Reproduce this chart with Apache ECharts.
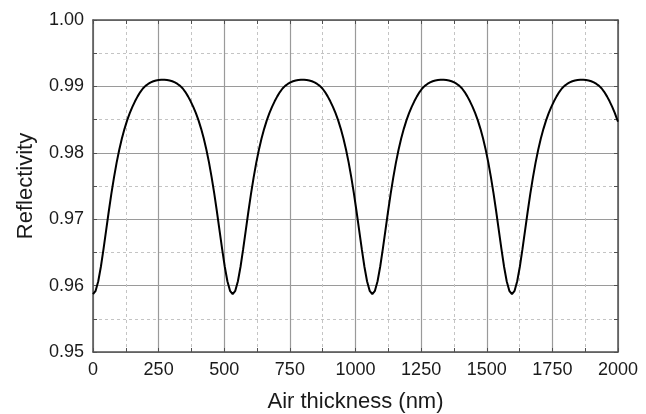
<!DOCTYPE html>
<html>
<head>
<meta charset="utf-8">
<title>Reflectivity vs air thickness</title>
<script src="https://cdn.jsdelivr.net/npm/echarts@6/dist/echarts.min.js"></script>
<style>
  html, body { margin: 0; padding: 0; background: #ffffff; }
  #chart { width: 646px; height: 414px; }
</style>
</head>
<body>
<div id="chart"></div>
<script>
// Air gap thickness (nm) — denser sampling around each reflectivity dip
const thickness = [
  0, 10, 20, 30, 40, 50, 60, 70, 80, 90, 100, 110, 120, 130, 140, 150, 160, 170, 180, 190, 200, 210, 220, 230, 240, 250, 260, 266,
  272, 282, 292, 302, 312, 322, 332, 342, 352, 362, 372, 382, 392, 402, 412, 422, 432, 442, 452, 462, 472, 482, 492, 502, 512, 522,
  532, 542, 552, 562, 572, 582, 592, 602, 612, 622, 632, 642, 652, 662, 672, 682, 692, 702, 712, 722, 732, 742, 752, 762, 772, 782, 792, 798,
  804, 814, 824, 834, 844, 854, 864, 874, 884, 894, 904, 914, 924, 934, 944, 954, 964, 974, 984, 994, 1004, 1014, 1024, 1034, 1044, 1054,
  1064, 1074, 1084, 1094, 1104, 1114, 1124, 1134, 1144, 1154, 1164, 1174, 1184, 1194, 1204, 1214, 1224, 1234, 1244, 1254, 1264, 1274, 1284, 1294, 1304, 1314, 1324, 1330,
  1336, 1346, 1356, 1366, 1376, 1386, 1396, 1406, 1416, 1426, 1436, 1446, 1456, 1466, 1476, 1486, 1496, 1506, 1516, 1526, 1536, 1546, 1556, 1566, 1576, 1586,
  1596, 1606, 1616, 1626, 1636, 1646, 1656, 1666, 1676, 1686, 1696, 1706, 1716, 1726, 1736, 1746, 1756, 1766, 1776, 1786, 1796, 1806, 1816, 1826, 1836, 1846, 1856, 1862,
  1868, 1878, 1888, 1898, 1908, 1918, 1928, 1938, 1948, 1958, 1968, 1978, 1988, 1998, 2000
];

// Reflectivity at each thickness
const reflectivity = [
  0.95870, 0.95921, 0.96066, 0.96284, 0.96549, 0.96833, 0.97116, 0.97385, 0.97631, 0.97852, 0.98046, 0.98215, 0.98361, 0.98488, 0.98597, 0.98692, 0.98775, 0.98850, 0.98915, 0.98968, 0.99008, 0.99037, 0.99060, 0.99077, 0.99089, 0.99097, 0.99101, 0.99102,
  0.99101, 0.99097, 0.99089, 0.99077, 0.99060, 0.99037, 0.99008, 0.98968, 0.98915, 0.98850, 0.98775, 0.98692, 0.98597, 0.98488, 0.98361, 0.98215, 0.98046, 0.97852, 0.97631, 0.97385, 0.97116, 0.96833, 0.96549, 0.96284, 0.96066, 0.95921,
  0.95870, 0.95921, 0.96066, 0.96284, 0.96549, 0.96833, 0.97116, 0.97385, 0.97631, 0.97852, 0.98046, 0.98215, 0.98361, 0.98488, 0.98597, 0.98692, 0.98775, 0.98850, 0.98915, 0.98968, 0.99008, 0.99037, 0.99060, 0.99077, 0.99089, 0.99097, 0.99101, 0.99102,
  0.99101, 0.99097, 0.99089, 0.99077, 0.99060, 0.99037, 0.99008, 0.98968, 0.98915, 0.98850, 0.98775, 0.98692, 0.98597, 0.98488, 0.98361, 0.98215, 0.98046, 0.97852, 0.97631, 0.97385, 0.97116, 0.96833, 0.96549, 0.96284, 0.96066, 0.95921,
  0.95870, 0.95921, 0.96066, 0.96284, 0.96549, 0.96833, 0.97116, 0.97385, 0.97631, 0.97852, 0.98046, 0.98215, 0.98361, 0.98488, 0.98597, 0.98692, 0.98775, 0.98850, 0.98915, 0.98968, 0.99008, 0.99037, 0.99060, 0.99077, 0.99089, 0.99097, 0.99101, 0.99102,
  0.99101, 0.99097, 0.99089, 0.99077, 0.99060, 0.99037, 0.99008, 0.98968, 0.98915, 0.98850, 0.98775, 0.98692, 0.98597, 0.98488, 0.98361, 0.98215, 0.98046, 0.97852, 0.97631, 0.97385, 0.97116, 0.96833, 0.96549, 0.96284, 0.96066, 0.95921,
  0.95870, 0.95921, 0.96066, 0.96284, 0.96549, 0.96833, 0.97116, 0.97385, 0.97631, 0.97852, 0.98046, 0.98215, 0.98361, 0.98488, 0.98597, 0.98692, 0.98775, 0.98850, 0.98915, 0.98968, 0.99008, 0.99037, 0.99060, 0.99077, 0.99089, 0.99097, 0.99101, 0.99102,
  0.99101, 0.99097, 0.99089, 0.99077, 0.99060, 0.99037, 0.99008, 0.98968, 0.98915, 0.98850, 0.98775, 0.98692, 0.98597, 0.98488, 0.98470
];

// Axis ranges, labelled tick spacing and the finer tick-mark spacing
const xTicks = { min: 0, max: 2000, step: 250, fine: 125 };
const yTicks = { min: 0.95, max: 1.00, step: 0.01, fine: 0.005 };

const FONT = '"Liberation Sans", Arial, Helvetica, sans-serif';
const TEXT = '#1a1a1a';
const FRAME = '#505050';
const MAJOR_GRID = '#9a9a9a';
const MINOR_GRID = '#c4c4c4';

const chart = echarts.init(document.getElementById('chart'), null, { renderer: 'canvas' });

const frameLine = { show: true, onZero: false, lineStyle: { color: FRAME, width: 1.5 } };
const noLine = { show: false, onZero: false };
const innerTicks = { show: true, inside: true, length: 4, lineStyle: { color: FRAME, width: 1 } };
const majorGrid = { show: true, lineStyle: { color: MAJOR_GRID, width: 1.2, type: 'solid' } };
const minorGrid = { show: true, lineStyle: { color: MINOR_GRID, width: 1, type: [3, 3] } };

// A label-less axis that only contributes a frame edge and/or inward tick marks
function tickAxis(position, range, withLine) {
  return {
    type: 'value', position,
    min: range.min, max: range.max, interval: range.fine,
    axisLine: withLine ? frameLine : noLine,
    axisTick: innerTicks,
    splitLine: { show: false },
    axisLabel: { show: false }
  };
}

chart.setOption({
  animation: false,
  backgroundColor: '#ffffff',
  grid: { left: 93, right: 28, top: 20, bottom: 62, containLabel: false, outerBoundsMode: 'none' },
  xAxis: [
    {
      type: 'value', position: 'bottom',
      min: xTicks.min, max: xTicks.max, interval: xTicks.step,
      name: 'Air thickness (nm)', nameLocation: 'middle', nameGap: 39,
      nameTextStyle: { fontFamily: FONT, fontSize: 22, color: TEXT },
      axisLine: frameLine, axisTick: { show: false },
      minorTick: { show: false, splitNumber: 2 },
      splitLine: majorGrid, minorSplitLine: minorGrid,
      axisLabel: {
        fontFamily: FONT, fontSize: 18, color: TEXT, margin: 9,
        formatter: v => String(v)
      }
    },
    tickAxis('top', xTicks, true),
    tickAxis('bottom', xTicks, false)
  ],
  yAxis: [
    {
      type: 'value', position: 'left',
      min: yTicks.min, max: yTicks.max, interval: yTicks.step,
      name: 'Reflectivity', nameLocation: 'middle', nameGap: 56, nameRotate: 90,
      nameTextStyle: { fontFamily: FONT, fontSize: 22, color: TEXT },
      axisLine: frameLine, axisTick: { show: false },
      minorTick: { show: false, splitNumber: 2 },
      splitLine: majorGrid, minorSplitLine: minorGrid,
      axisLabel: {
        fontFamily: FONT, fontSize: 18, color: TEXT, margin: 9,
        formatter: v => v.toFixed(2)
      }
    },
    tickAxis('right', yTicks, true),
    tickAxis('left', yTicks, false)
  ],
  series: [
    {
      type: 'line',
      xAxisIndex: 0, yAxisIndex: 0,
      data: thickness.map((x, i) => [x, reflectivity[i]]),
      showSymbol: false,
      smooth: false,
      lineStyle: { color: '#000000', width: 2 },
      z: 5
    }
  ]
});
</script>
</body>
</html>
